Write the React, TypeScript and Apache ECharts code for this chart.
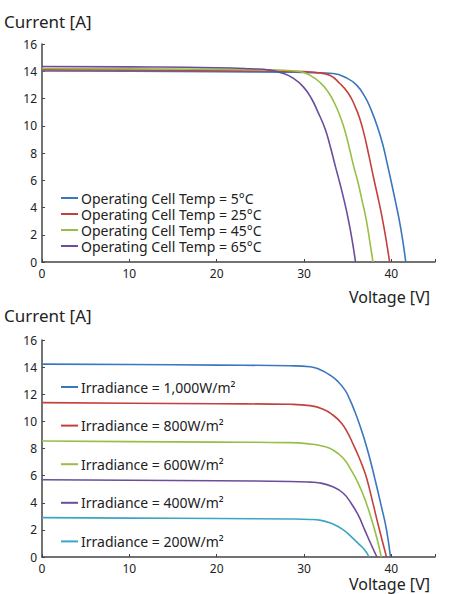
import React, { useEffect, useRef } from "react";
import * as echarts from "echarts";

const xTicks = [0, 10, 20, 30, 40];
const yTicks = [0, 2, 4, 6, 8, 10, 12, 14, 16];

const tempNames = [
  "Operating Cell Temp = 5°C",
  "Operating Cell Temp = 25°C",
  "Operating Cell Temp = 45°C",
  "Operating Cell Temp = 65°C",
];
const temp5: number[][] = [[0, 14.02], [10, 14.0], [20, 13.97], [28, 13.93], [31, 13.9], [33.3, 13.83], [34.9, 13.5], [36, 13.0], [36.95, 12.15], [37.7, 11.15], [38.5, 9.75], [39.05, 8.55], [39.5, 7.3], [40, 5.85], [40.45, 4.5], [40.9, 3.1], [41.3, 1.6], [41.65, 0]];
const temp25: number[][] = [[0, 14.1], [10, 14.08], [20, 14.04], [27, 14.0], [30, 13.97], [31.4, 13.9], [32.95, 13.7], [34.1, 13.1], [35.05, 12.4], [35.8, 11.5], [36.4, 10.5], [36.95, 9.2], [37.3, 8.2], [37.7, 7.0], [38.1, 5.8], [38.55, 4.5], [38.95, 3.25], [39.4, 1.65], [39.8, 0]];
const temp45: number[][] = [[0, 14.2], [10, 14.18], [20, 14.14], [27.2, 14.08], [29.5, 13.98], [30.7, 13.7], [31.8, 13.2], [32.75, 12.5], [33.5, 11.65], [34.3, 10.4], [34.85, 9.25], [35.25, 8.2], [35.7, 7.0], [36.2, 5.8], [36.65, 4.5], [37.1, 3.2], [37.5, 1.65], [37.9, 0]];
const temp65: number[][] = [[0, 14.35], [10, 14.32], [20, 14.26], [23.8, 14.18], [26.1, 14.08], [27.6, 13.85], [28.75, 13.5], [29.9, 12.87], [30.85, 12.0], [31.6, 11.0], [32.4, 9.8], [33.0, 8.5], [33.6, 7.0], [34.1, 5.8], [34.6, 4.5], [35.05, 3.2], [35.5, 1.65], [35.9, 0]];

const irrNames = [
  "Irradiance = 1,000W/m²",
  "Irradiance = 800W/m²",
  "Irradiance = 600W/m²",
  "Irradiance = 400W/m²",
  "Irradiance = 200W/m²",
];
const irr1000: number[][] = [[0, 14.22], [10, 14.19], [20, 14.15], [28.4, 14.1], [30.7, 14.03], [31.8, 13.82], [32.95, 13.42], [33.9, 12.93], [34.7, 12.3], [35.25, 11.6], [35.8, 10.75], [36.4, 9.7], [36.95, 8.6], [37.5, 7.35], [38.1, 5.8], [38.85, 3.75], [39.45, 2.0], [39.9, 0]];
const irr800: number[][] = [[0, 11.38], [10, 11.34], [20, 11.3], [28.4, 11.26], [30.7, 11.16], [32.2, 10.9], [33.3, 10.47], [34.3, 9.86], [35.05, 9.1], [35.6, 8.35], [36.2, 7.5], [36.7, 6.7], [37.2, 5.75], [37.9, 3.95], [38.6, 2.1], [39.45, 0]];
const irr600: number[][] = [[0, 8.55], [10, 8.51], [20, 8.47], [28.4, 8.43], [30.7, 8.33], [32.2, 8.17], [33.3, 7.9], [34.5, 7.28], [35.4, 6.4], [36.2, 5.45], [36.95, 4.3], [37.7, 2.85], [38.35, 1.38], [38.85, 0]];
const irr400: number[][] = [[0, 5.7], [10, 5.66], [20, 5.62], [28.4, 5.57], [30.7, 5.52], [31.8, 5.46], [33.3, 5.18], [34.5, 4.7], [35.4, 3.96], [36.2, 3.1], [36.95, 2.0], [37.7, 0.9], [38.35, 0]];
const irr200: number[][] = [[0, 2.9], [10, 2.87], [20, 2.84], [28.4, 2.8], [30.7, 2.77], [31.8, 2.72], [33.3, 2.43], [34.5, 2.0], [35.4, 1.5], [36.2, 1.0], [36.95, 0.52], [37.45, 0]];

const tempSeries = [temp5, temp25, temp45, temp65];
const irrSeries = [irr1000, irr800, irr600, irr400, irr200];
const tempColors = ["#3b76bf", "#c4403d", "#97bf47", "#6a4d9c"];
const irrColors = ["#3b76bf", "#c4403d", "#97bf47", "#6a4d9c", "#3aa6c6"];

const FONT = "Noto Sans";
const TEXT = "#222";
const AXIS = "#444";

export default function App() {
  const ref = useRef<HTMLDivElement>(null);
  useEffect(() => {
    if (!ref.current) return;
    const chart = echarts.init(ref.current, undefined, { renderer: "svg" });
    const mkX = (gi: number) => ({
      type: "value",
      gridIndex: gi,
      min: 0,
      max: 45,
      interval: 10,
      axisLine: { show: true, onZero: false, lineStyle: { color: AXIS, width: 1.5 } },
      axisTick: { show: true, inside: true, length: 3, lineStyle: { color: AXIS } },
      splitLine: { show: false },
      axisLabel: {
        color: TEXT,
        fontFamily: FONT,
        fontSize: 12,
        lineHeight: 12,
        margin: 5,
        formatter: (v: number) => (xTicks.includes(v) ? String(v) : ""),
      },
    });
    const mkY = (gi: number) => ({
      type: "value",
      gridIndex: gi,
      min: 0,
      max: 16,
      interval: 2,
      axisLine: { show: true, lineStyle: { color: AXIS, width: 1.5 } },
      axisTick: { show: true, inside: true, length: 3, lineStyle: { color: AXIS } },
      splitLine: { show: false },
      axisLabel: {
        color: TEXT,
        fontFamily: FONT,
        fontSize: 12,
        margin: 5,
        formatter: (v: number) => (yTicks.includes(v) ? String(v) : ""),
      },
    });
    const lineSeries = (name: string, data: number[][], color: string, gi: number) => ({
      type: "line",
      name,
      data,
      xAxisIndex: gi,
      yAxisIndex: gi,
      showSymbol: false,
      smooth: 0.5,
      lineStyle: { color, width: 1.6 },
      itemStyle: { color },
    });
    const titleStyle = { fontFamily: FONT, fontSize: 17, lineHeight: 18, fontWeight: "normal", color: TEXT };
    const voltStyle = { fontFamily: FONT, fontSize: 16, lineHeight: 18, fontWeight: "normal", color: TEXT };
    chart.setOption({
      animation: false,
      title: [
        { text: "Current [A]", left: 4, top: 12, padding: 0, textStyle: titleStyle },
        { text: "Voltage [V]", right: 26, top: 288, padding: 0, textStyle: voltStyle },
        { text: "Current [A]", left: 4, top: 306, padding: 0, textStyle: titleStyle },
        { text: "Voltage [V]", right: 26, top: 575, padding: 0, textStyle: voltStyle },
      ],
      grid: [
        { left: 42, top: 44, width: 393, height: 218 },
        { left: 42, top: 340, width: 393, height: 217 },
      ],
      legend: [
        {
          data: tempNames,
          orient: "vertical",
          left: 56,
          top: 185,
          itemWidth: 17,
          itemHeight: 2,
          itemGap: 0,
          icon: "rect",
          textStyle: { fontFamily: FONT, fontSize: 14, lineHeight: 16, color: TEXT, padding: [0, 0, 0, -2] },
        },
        {
          data: irrNames,
          orient: "vertical",
          left: 56,
          top: 374,
          itemWidth: 17,
          itemHeight: 2,
          itemGap: 22.6,
          icon: "rect",
          textStyle: { fontFamily: FONT, fontSize: 14, lineHeight: 16, color: TEXT, padding: [0, 0, 0, -2] },
        },
      ],
      xAxis: [mkX(0), mkX(1)],
      yAxis: [mkY(0), mkY(1)],
      series: [
        ...tempSeries.map((d, i) => lineSeries(tempNames[i], d, tempColors[i], 0)),
        ...irrSeries.map((d, i) => lineSeries(irrNames[i], d, irrColors[i], 1)),
      ],
    });
    return () => chart.dispose();
  }, []);
  return (
    <div
      ref={ref}
      style={{ position: "fixed", left: 0, top: 0, width: 456, height: 594, background: "#fff" }}
    />
  );
}
